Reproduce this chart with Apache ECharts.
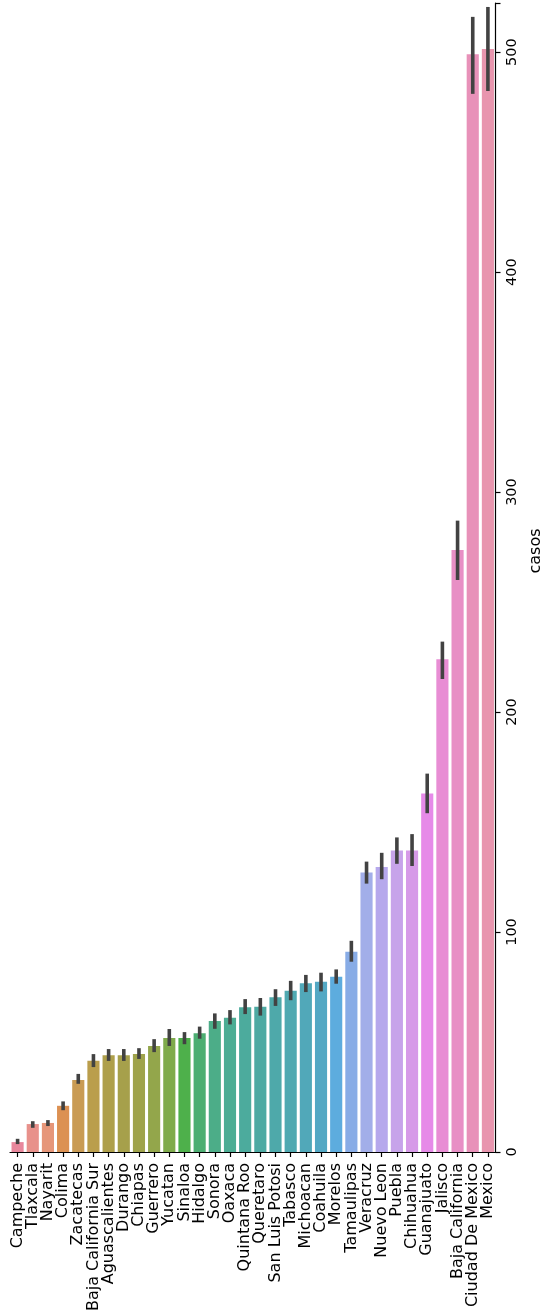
<!DOCTYPE html>
<html>
<head>
<meta charset="utf-8">
<script src="https://cdn.jsdelivr.net/npm/echarts@6/dist/echarts.min.js"></script>
<style>
  html, body { margin: 0; padding: 0; background: #fff; }
  #chart { width: 541px; height: 1314px; }
</style>
</head>
<body>
<div id="chart"></div>
<script>
// States ordered by mean number of cases
const estados = [
  'Campeche', 'Tlaxcala', 'Nayarit', 'Colima', 'Zacatecas', 'Baja California Sur',
  'Aguascalientes', 'Durango', 'Chiapas', 'Guerrero', 'Yucatan', 'Sinaloa', 'Hidalgo',
  'Sonora', 'Oaxaca', 'Quintana Roo', 'Queretaro', 'San Luis Potosi', 'Tabasco',
  'Michoacan', 'Coahuila', 'Morelos', 'Tamaulipas', 'Veracruz', 'Nuevo Leon', 'Puebla',
  'Chihuahua', 'Guanajuato', 'Jalisco', 'Baja California', 'Ciudad De Mexico', 'Mexico'
];
// mean cases per state
const casos = [
  4.5, 12.7, 13.2, 21, 32.7, 41.5, 44, 44, 44.5, 48.2, 51.8, 51.8, 54,
  59.5, 61, 65.8, 66, 70.4, 73.3, 76.7, 77.4, 79.7, 91, 127, 129.5, 137,
  137, 163, 224, 273.6, 499, 501.4
];
// confidence interval bounds
const ciBajo = [
  3.6, 11, 11.8, 19, 31, 38.6, 41.4, 41.4, 42.3, 45.4, 48.2, 49, 51.5,
  56, 58, 62.7, 62, 66.4, 69, 72.7, 73, 76.5, 86.5, 122, 124, 131,
  130, 154, 215, 260, 481, 482.3
];
const ciAlto = [
  6, 14, 14.5, 23, 35.5, 44.5, 46.8, 46.8, 47.2, 51.3, 55.9, 54.5, 57,
  63, 64.5, 69.5, 70, 74, 77.8, 80.5, 81.5, 83, 96, 132, 136, 143,
  144.5, 172, 232, 287, 516, 520.5
];
const yTicks = [0, 100, 200, 300, 400, 500];

// husl-like palette
const colores = [
  '#e8879c', '#e8918b', '#e69679', '#dc9152', '#c99b54', '#ba9e4c',
  '#ae9f4b', '#a6a04b', '#9fa34b', '#93a64b', '#7fab4b', '#4eb04b',
  '#4cae72', '#4cad88', '#4cad94', '#4cab9d', '#4daaa3', '#4ea9aa',
  '#4fa9b1', '#51a8b9', '#53a8c4', '#5dacde', '#88ace6', '#a2aee9',
  '#b6a8ec', '#c7a3ea', '#d69ae8', '#e68ae8', '#e88dd4', '#e88fc5',
  '#e891b9', '#e895ae'
];

const chart = echarts.init(document.getElementById('chart'));
const fontFam = '"DejaVu Sans", sans-serif';

chart.setOption({
  animation: false,
  backgroundColor: '#ffffff',
  grid: {
    left: 10, right: 45.5, top: 3, bottom: 162,
    containLabel: false, outerBoundsMode: 'none'
  },
  xAxis: {
    type: 'category',
    data: estados,
    axisLine: { show: true, lineStyle: { color: '#000', width: 1.2 } },
    axisTick: { show: true, alignWithLabel: true, length: 5, lineStyle: { color: '#000', width: 1.2 } },
    axisLabel: {
      rotate: 90, interval: 0, margin: 11,
      color: '#000', fontSize: 16, fontFamily: fontFam
    }
  },
  yAxis: {
    type: 'value',
    position: 'right',
    min: 0, max: 522.3, interval: 100,
    axisLine: { show: true, lineStyle: { color: '#000', width: 1.2 } },
    axisTick: { show: true, length: 5, lineStyle: { color: '#000', width: 1.2 } },
    splitLine: { show: false },
    axisLabel: {
      rotate: 90, margin: 9, color: '#000', fontSize: 14.5, fontFamily: fontFam,
      formatter: v => (yTicks.indexOf(v) >= 0 ? String(v) : '')
    }
  },
  graphic: [{
    type: 'text',
    x: 536, y: 551,
    rotation: Math.PI / 2,
    style: {
      text: 'casos', fill: '#000', fontSize: 16, fontFamily: fontFam,
      align: 'center', verticalAlign: 'middle'
    }
  }],
  series: [
    {
      type: 'bar',
      barWidth: '80%',
      data: casos.map((v, i) => ({ value: v, itemStyle: { color: colores[i] } })),
      z: 2
    },
    {
      type: 'custom',
      z: 3,
      data: estados.map((e, i) => [i, ciBajo[i], ciAlto[i]]),
      renderItem: (params, api) => {
        const lo = api.coord([api.value(0), api.value(1)]);
        const hi = api.coord([api.value(0), api.value(2)]);
        return {
          type: 'line',
          shape: { x1: lo[0], y1: lo[1], x2: hi[0], y2: hi[1] },
          style: { stroke: '#424242', lineWidth: 3.6 }
        };
      }
    }
  ]
});
</script>
</body>
</html>
